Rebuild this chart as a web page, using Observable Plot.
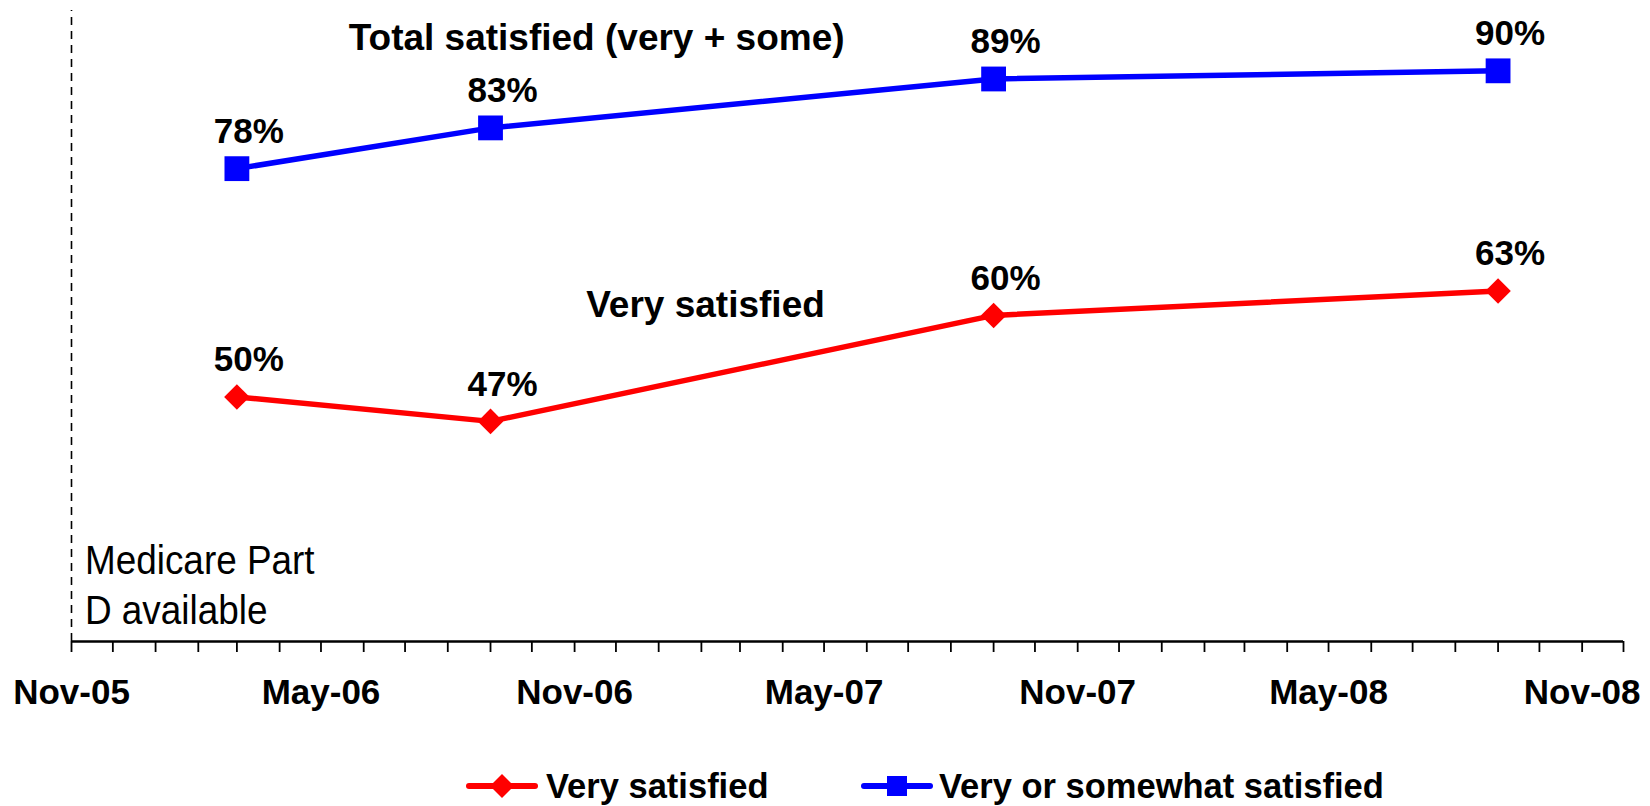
<!DOCTYPE html>
<html>
<head>
<meta charset="utf-8">
<script src="https://cdn.jsdelivr.net/npm/d3@7"></script>
<script src="https://cdn.jsdelivr.net/npm/@observablehq/plot@0.6"></script>
<style>
  html, body { margin: 0; padding: 0; background: #fff; }
  body { width: 1650px; height: 806px; overflow: hidden; font-family: "Liberation Sans", Arial, sans-serif; }
  #legend { position: relative; height: 40px; padding-top: 10px; font-weight: bold; font-size: 34.5px; }
  .item { position: absolute; top: 10px; height: 40px; display: flex; align-items: center; }
  .item svg { display: block; }
  .item span { line-height: 40px; }
</style>
</head>
<body>
<div id="chart"></div>
<div id="legend"></div>
<script>
// ---- data ----
const surveyDates = ["2006-03-01", "2006-09-01", "2007-09-01", "2008-09-01"];
const verySatisfied = [50, 47, 60, 63];
const totalSatisfied = [78, 83, 89, 90];
const seriesNames = ["Very satisfied", "Very or somewhat satisfied"];
const seriesColors = ["#FF0000", "#0000FF"];
const tickDates = ["2005-11-01", "2006-05-01", "2006-11-01", "2007-05-01", "2007-11-01", "2008-05-01", "2008-11-01"];
const tickLabels = ["Nov-05", "May-06", "Nov-06", "May-07", "Nov-07", "May-08", "Nov-08"];
const xStart = "2005-11-01", xEnd = "2008-12-01";
const partDDate = "2005-11-01";

const parse = d3.utcParse("%Y-%m-%d");
const red = surveyDates.map((d, i) => ({date: parse(d), value: verySatisfied[i]}));
const blue = surveyDates.map((d, i) => ({date: parse(d), value: totalSatisfied[i]}));
const labelMap = new Map(tickDates.map((d, i) => [+parse(d), tickLabels[i]]));
const monthTicks = d3.utcMonth.range(parse(xStart), d3.utcDay.offset(parse(xEnd), 1));

const font = '"Liberation Sans", Arial, sans-serif';
const yMin = 20, yMax = 97.4;

const chart = Plot.plot({
  width: 1650,
  height: 756,
  marginLeft: 71,
  marginRight: 27,
  marginTop: 10,
  marginBottom: 115,
  style: {fontFamily: font, background: "white"},
  x: {type: "utc", domain: [parse(xStart), parse(xEnd)]},
  y: {domain: [yMin, yMax], axis: null},
  marks: [
    Plot.ruleX([parse(partDDate)], {y1: yMin, y2: yMax, stroke: "#000", strokeWidth: 1.6, strokeDasharray: "8,6"}),
    Plot.ruleY([yMin], {stroke: "#000", strokeWidth: 2.5}),
    Plot.axisX({ticks: monthTicks, tickSize: 11, tickFormat: () => "", stroke: "#000", strokeWidth: 1.8, label: null}),
    Plot.axisX({ticks: tickDates.map(parse), tickSize: 0, tickPadding: 38, tickFormat: d => labelMap.get(+d),
      fontSize: 35, fontWeight: "bold", fill: "#000", label: null}),
    Plot.line(blue, {x: "date", y: "value", stroke: seriesColors[1], strokeWidth: 5.5}),
    Plot.line(red, {x: "date", y: "value", stroke: seriesColors[0], strokeWidth: 5.5}),
    Plot.dot(blue, {x: "date", y: "value", symbol: "square", r: 14, fill: seriesColors[1], stroke: null}),
    Plot.dot(red, {x: "date", y: "value", symbol: "diamond2", r: 11.5, fill: seriesColors[0], stroke: null}),
    Plot.text(blue, {x: "date", y: "value", text: d => d.value + "%", dx: 12, dy: -37, fontSize: 35, fontWeight: "bold", fill: "#000"}),
    Plot.text(red, {x: "date", y: "value", text: d => d.value + "%", dx: 12, dy: -37, fontSize: 35, fontWeight: "bold", fill: "#000"}),
    Plot.text([{date: parse("2006-11-17"), value: 94, t: "Total satisfied (very + some)"}], {x: "date", y: "value", text: "t", fontSize: 37, fontWeight: "bold", fill: "#000"}),
    Plot.text([{date: parse("2007-02-04"), value: 61.2, t: "Very satisfied"}], {x: "date", y: "value", text: "t", fontSize: 37, fontWeight: "bold", fill: "#000"}),
    Plot.text([{date: parse(partDDate), value: 32.6, t: "Medicare Part\nD available"}], {x: "date", y: "value", text: "t", dx: 15, textAnchor: "start", lineAnchor: "top", lineHeight: 1.22, fontSize: 41, fill: "#000", className: "partd"})
  ]
});
document.getElementById("chart").appendChild(chart);

// condense the "Medicare Part D available" note (narrow face)
const partd = chart.querySelector("g.partd") || chart.querySelector(".partd");
if (partd) {
  const bb = partd.getBBox();
  const x0 = bb.x;
  const old = partd.getAttribute("transform") || "";
  partd.setAttribute("transform", `translate(${x0},0) scale(0.9,1) translate(${-x0},0) ${old}`);
}

// ---- legend ----
const legend = document.getElementById("legend");
const legendItems = [
  {name: seriesNames[0], color: seriesColors[0], symbol: "diamond", left: 466},
  {name: seriesNames[1], color: seriesColors[1], symbol: "square", left: 861}
];
legendItems.forEach(it => {
  const div = document.createElement("div");
  div.className = "item";
  div.style.left = it.left + "px";
  const sym = it.symbol === "square"
    ? `<rect x="26" y="10" width="20" height="20" fill="${it.color}"/>`
    : `<polygon points="36,8 48,20 36,32 24,20" fill="${it.color}"/>`;
  div.innerHTML = `<svg width="72" height="40"><line x1="3" y1="20" x2="69" y2="20" stroke="${it.color}" stroke-width="6" stroke-linecap="round"/>${sym}</svg><span style="margin-left:${it.symbol === "square" ? 6 : 8}px">${it.name}</span>`;
  legend.appendChild(div);
});
</script>
</body>
</html>
